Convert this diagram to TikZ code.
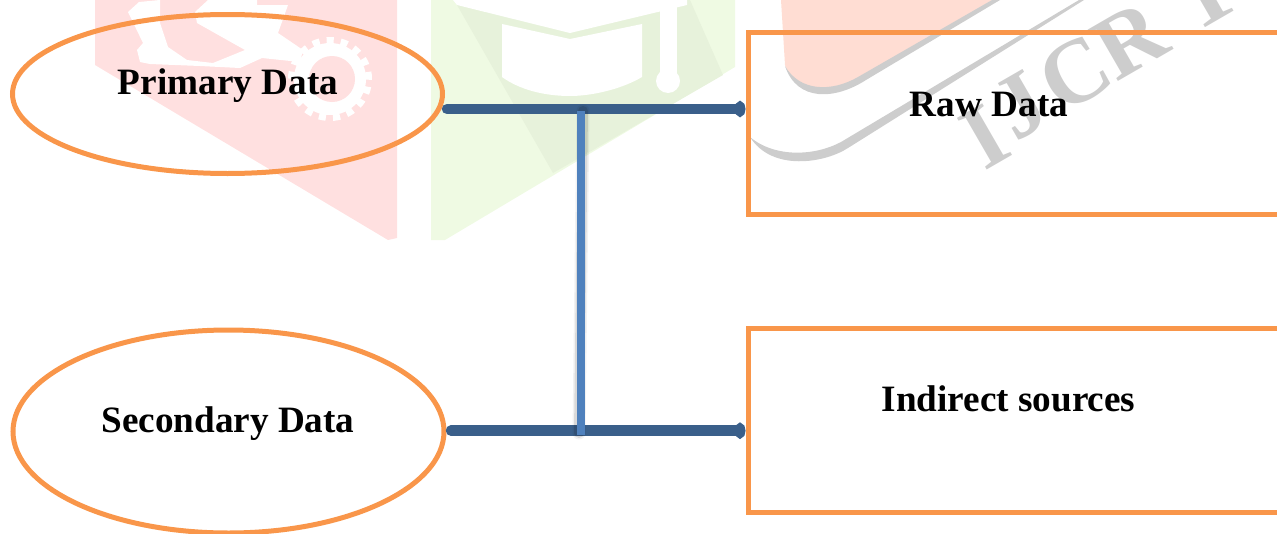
\documentclass[tikz,border=0pt]{standalone}
\usepackage{fontspec}
\setmainfont{Liberation Serif}
\usetikzlibrary{shapes.geometric,arrows.meta}
\definecolor{orangeline}{HTML}{F9964A}
\definecolor{darkblue}{HTML}{3A5F8A}
\definecolor{midblue}{HTML}{4F81BD}
\definecolor{wmred}{HTML}{FFE0E0}
\definecolor{wmgreen}{HTML}{EFFAE3}
\definecolor{wmgreendark}{HTML}{E7F2DB}
\definecolor{wmpeach}{HTML}{FFDDD3}
\definecolor{wmgray}{HTML}{CDCDCD}
\tikzset{
  oval/.style={draw=orangeline,line width=5pt,ellipse,inner sep=0pt,outer sep=0pt},
  boxnode/.style={draw=orangeline,line width=5pt,rectangle,inner sep=0pt,outer sep=0pt,minimum width=560pt},
  lbl/.style={font=\bfseries\fontsize{37.2}{40}\selectfont,text=black,anchor=base,inner sep=0pt},
  wmletter/.style={rotate=30,anchor=center,inner sep=0pt,text=wmgray,font=\bfseries\fontsize{91}{91}\selectfont},
  hline/.style={draw=darkblue,line width=10.5pt,line cap=round,-{Circle[length=11pt,width=15.5pt]}},
  vline/.style={draw=midblue,line width=8pt},
  vshadow/.style={draw=black,line cap=round}
}
\begin{document}
\begin{tikzpicture}[x=1pt,y=-1pt]
\useasboundingbox (0,0) rectangle (1277,533);
\clip (0,0) rectangle (1277,533);
% watermark: red panel
\fill[wmred] (95,0) -- (397,0) -- (397,238) -- (388,240) -- (95,65) -- cycle;
\fill[white] (128,12) -- (139,2) -- (160,0) -- (160,23) -- (168,47) -- (187,60) -- (213,63) -- (245,50)
  -- (197,23) -- (195,12) -- (208,0) -- (257,0) -- (257,5) -- (288,5) -- (278,33) -- (303,50) -- (300,62)
  -- (262,58) -- (240,68) -- (200,66) -- (150,64) -- (140,62) -- (137,50) -- (143,43) -- cycle;
\fill[white] (330,79) circle[radius=36pt];
\draw[white,line width=8pt,dash pattern=on 7pt off 7pt] (330,79) circle[radius=38pt];
\fill[wmred] (332,79) circle[radius=23pt];
% watermark: green panel
\fill[wmgreen] (431,0) -- (735,0) -- (735,67) -- (445,240) -- (431,240) -- cycle;
\fill[wmgreendark] (457,5) -- (553,173) -- (723,75) -- (690,0) -- (457,0) -- cycle;
\fill[white] (453,0) -- (457,5) -- (570,33) -- (687,5) -- (687,0) -- cycle;
\fill[white] (502,24) -- (570,39) -- (642,24) -- (642,77) .. controls (620,90) and (590,96) .. (570,96)
  .. controls (545,96) and (520,90) .. (502,77) -- cycle;
\fill[white] (660,0) rectangle (677,75);
\fill[white] (668,81) circle[radius=12pt];
% watermark: peach panel and swooshes
\fill[wmpeach] (781,0) -- (992,0) -- (862,78) .. controls (835,95) and (798,100) .. (785,65) -- cycle;
\fill[wmgray] (1000,0) -- (866,80) .. controls (835,100) and (797,102) .. (785,66)
  .. controls (800,92) and (832,92) .. (858,77) -- (992,0) -- cycle;
\fill[wmgray] (1084,0) -- (848,148) .. controls (825,163) and (772,172) .. (750,137)
  .. controls (775,158) and (815,156) .. (841,142) -- (1079,0) -- cycle;
\node[wmletter] (wmi) at (985,137) {I};
\node[wmletter] (wmj) at (1021,106) {J};
\node[wmletter] (wmc) at (1075,73) {C};
\node[wmletter] (wmr) at (1130,40) {R};
\node[wmletter] (wmt) at (1205,-6) {T};
% ovals and boxes
\node[oval,minimum width=430pt,minimum height=159pt] (prim) at (227.5,94) {};
\node[oval,minimum width=431pt,minimum height=203pt] (sec) at (228.5,431.5) {};
\node[boxnode,minimum height=181.5pt,anchor=north west] (raw) at (748,32.5) {};
\node[boxnode,minimum height=183.5pt,anchor=north west] (ind) at (748,328.5) {};
% labels
\node[lbl] (primt) at (228,94) {Primary Data};
\node[lbl] (sect) at (228,432.5) {Secondary Data};
\node[lbl] (rawt) at (989,116) {Raw Data};
\node[lbl] (indt) at (1008.5,411) {Indirect sources};
% connectors
\coordinate (a1) at (447,109);
\coordinate (a2) at (raw.west |- a1);
\coordinate (b1) at (451,430.7);
\coordinate (b2) at (ind.west |- b1);
\coordinate (v1) at (581,111);
\coordinate (v2) at (581,435);
\draw[hline,shorten >=2.5pt] (a1) -- (a2);
\draw[hline,shorten >=2.5pt] (b1) -- (b2);
\draw[vshadow,line width=13pt,opacity=.05] ([xshift=2pt]v1) -- ([xshift=-2pt,yshift=2pt]v2);
\draw[vshadow,line width=10pt,opacity=.10] ([xshift=2pt]v1) -- ([xshift=-2pt,yshift=2pt]v2);
\draw[vline] (v1) -- (v2);
\end{tikzpicture}
\end{document}
